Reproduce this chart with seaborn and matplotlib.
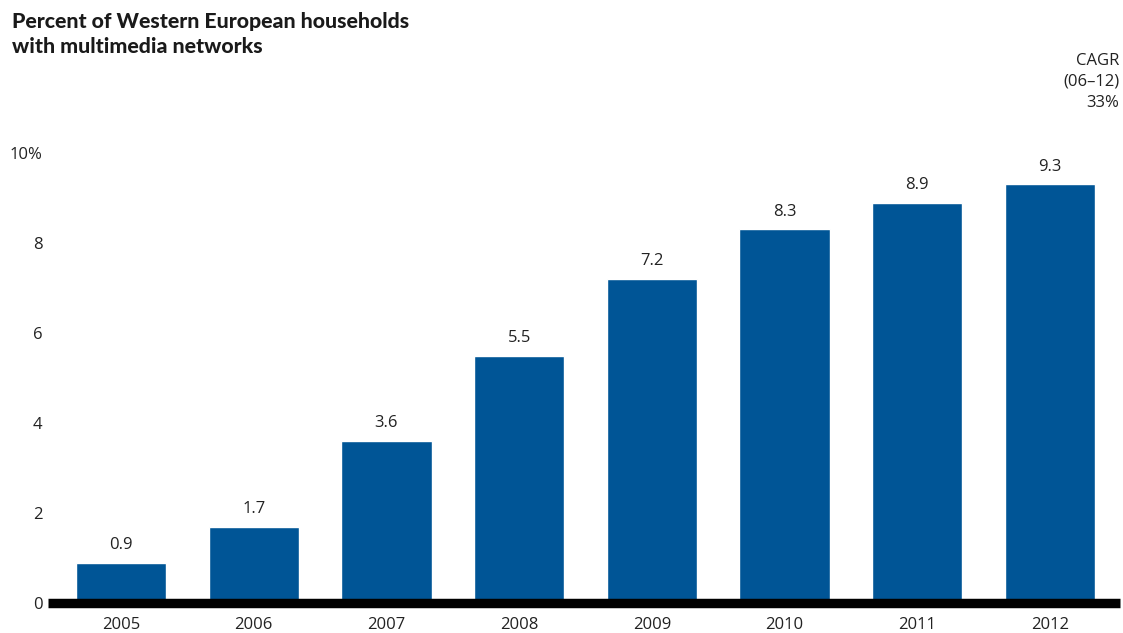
import matplotlib
matplotlib.use("Agg")
import matplotlib.pyplot as plt
import seaborn as sns
import pandas as pd

years = ["2005", "2006", "2007", "2008", "2009", "2010", "2011", "2012"]
values = [0.9, 1.7, 3.6, 5.5, 7.2, 8.3, 8.9, 9.3]
value_labels = ["0.9", "1.7", "3.6", "5.5", "7.2", "8.3", "8.9", "9.3"]
ytick_vals = [0, 2, 4, 6, 8, 10]
ytick_labels = ["0", "2", "4", "6", "8", "10%"]
title = "Percent of Western European households\nwith multimedia networks"
cagr_text = "CAGR\n(06\u201312)\n33%"

sns.set_theme(style="white")
plt.rcParams["font.family"] = ["Open Sans", "DejaVu Sans"]

W, H = 1123, 633
fig = plt.figure(figsize=(W / 100, H / 100), dpi=100)
ax = fig.add_axes([48 / W, 30 / H, 1075 / W, 472.5 / H])

df = pd.DataFrame({"year": years, "value": values})
sns.barplot(data=df, x="year", y="value", color="#005596", saturation=1,
            width=0.68, ax=ax)

ax.set_xlim(-0.55, 7.55)
ax.set_ylim(0, 10.5)
for s in ax.spines.values():
    s.set_visible(False)
ax.axhline(0, color="black", linewidth=6.8, xmin=0, xmax=0.997, clip_on=False,
           zorder=5, solid_capstyle="butt")

ax.set_yticks(ytick_vals)
ax.set_yticklabels(ytick_labels, fontsize=12, color="#222222")
ax.tick_params(axis="y", length=0, pad=4)
ax.tick_params(axis="x", length=0, pad=10, labelsize=12, labelcolor="#222222")
ax.set_xlabel("")
ax.set_ylabel("")
ax.grid(False)

for i, (v, lab) in enumerate(zip(values, value_labels)):
    ax.text(i, v + 0.22, lab, ha="center", va="bottom", fontsize=12, color="#222222")

fig.text(12 / W, 1 - 34 / H, title, fontsize=15.3, fontweight="black",
         ha="left", va="center", linespacing=1.35, color="#1a1a1a",
         family=["Lato", "DejaVu Sans"])
fig.text(1119 / W, 1 - 82 / H, cagr_text, fontsize=12, ha="right", va="center",
         linespacing=1.42, color="#222222")

fig.savefig("out.png", dpi=100)
